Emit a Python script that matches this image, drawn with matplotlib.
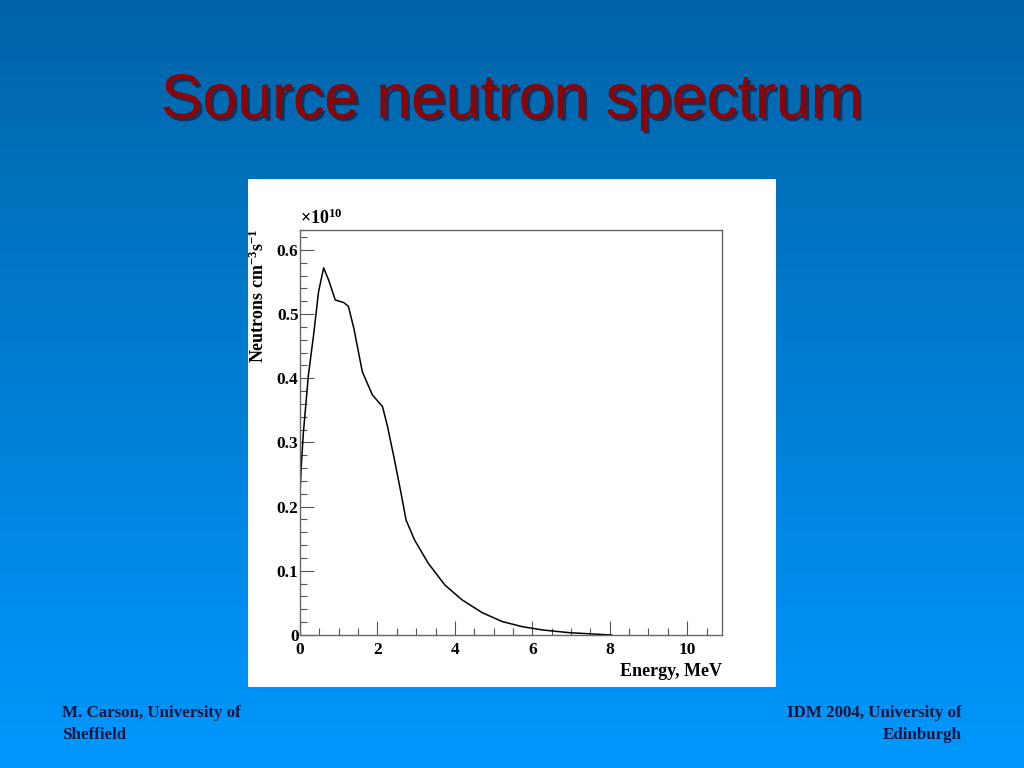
import numpy as np
import matplotlib
matplotlib.use("Agg")
import matplotlib.pyplot as plt
from matplotlib.ticker import MultipleLocator, FixedLocator
import matplotlib.patheffects as pe

# ------------------------------------------------------------------
# Data (energy in MeV, flux in units of 1e10)
# ------------------------------------------------------------------
energy = [0.0, 0.03, 0.087, 0.217, 0.35, 0.48, 0.61, 0.74, 0.91, 1.13,
          1.25, 1.39, 1.61, 1.87, 2.13, 2.26, 2.44, 2.61, 2.74, 2.96,
          3.31, 3.74, 4.18, 4.70, 5.22, 5.74, 6.27, 6.96, 7.57, 8.05]
flux = [0.22, 0.26, 0.315, 0.405, 0.467, 0.535, 0.572, 0.553, 0.522, 0.518,
        0.512, 0.478, 0.410, 0.374, 0.356, 0.325, 0.273, 0.221, 0.179, 0.148,
        0.112, 0.078, 0.055, 0.035, 0.021, 0.013, 0.0078, 0.0036, 0.0016, 0.0]

x_ticks = [0, 2, 4, 6, 8, 10]
y_ticks = [0, 0.1, 0.2, 0.3, 0.4, 0.5, 0.6]
y_tick_labels = ["0", "0.1", "0.2", "0.3", "0.4", "0.5", "0.6"]

title = "Source neutron spectrum"
footer_left = "M. Carson, University of\nSheffield"
footer_right = "IDM 2004, University of\nEdinburgh"

serif = ["Liberation Serif", "DejaVu Serif"]
plt.rcParams["mathtext.fontset"] = "custom"
plt.rcParams["mathtext.rm"] = "Liberation Serif:bold"
plt.rcParams["mathtext.bf"] = "Liberation Serif:bold"
plt.rcParams["mathtext.it"] = "Liberation Serif:bold"

fig = plt.figure(figsize=(10.24, 7.68), dpi=100)

# background gradient
bg = fig.add_axes([0, 0, 1, 1])
top_col = np.array([0, 100, 168]) / 255.0
bot_col = np.array([0, 152, 255]) / 255.0
t = np.linspace(0, 1, 256)[:, None]
grad = (top_col[None, :] * (1 - t) + bot_col[None, :] * t)[:, None, :]
bg.imshow(grad, aspect="auto", extent=[0, 1, 0, 1])
bg.set_xlim(0, 1)
bg.set_ylim(0, 1)
bg.axis("off")

# title with shadow
fig.text(0.5, 0.868, title, ha="center", va="center", fontsize=45,
         family="Liberation Sans", color="#8a0505",
         path_effects=[pe.withSimplePatchShadow(offset=(2, -2), shadow_rgbFace="#101030", alpha=0.6),
                       pe.Normal()])

# white panel
panel = plt.Rectangle((248 / 1024, 1 - 687 / 768), (776 - 248) / 1024, (687 - 179) / 768,
                      transform=fig.transFigure, facecolor="white", edgecolor="none", zorder=1)
fig.patches.append(panel)

ax = fig.add_axes([300 / 1024, 1 - 635 / 768, (722 - 300) / 1024, (635 - 230) / 768])
ax.set_zorder(2)
ax.plot(energy, flux, color="black", lw=1.1)
ax.set_xlim(0, 10.9)
ax.set_ylim(0, 0.631)

ax.xaxis.set_major_locator(FixedLocator(x_ticks))
ax.xaxis.set_minor_locator(MultipleLocator(0.5))
ax.yaxis.set_major_locator(FixedLocator(y_ticks))
ax.yaxis.set_minor_locator(MultipleLocator(0.02))
ax.set_yticklabels(y_tick_labels)
ax.tick_params(which="both", direction="in", top=False, right=False, color="#555555")
ax.tick_params(which="major", length=10, width=0.8, labelsize=12.5)
ax.tick_params(axis="x", which="major", pad=5)
ax.tick_params(axis="y", which="major", pad=1)
ax.tick_params(which="minor", length=5, width=0.8)
for lab in ax.get_xticklabels() + ax.get_yticklabels():
    lab.set_family(serif)
    lab.set_fontweight("bold")
for s in ax.spines.values():
    s.set_color("#666666")
    s.set_linewidth(1.0)

ax.text(0.0, 1.004, "×10$^{10}$", transform=ax.transAxes, ha="left", va="bottom",
        fontsize=13, family=serif, fontweight="bold")
ax.text(-0.098, 1.003, "Neutrons cm$^{-3}$s$^{-1}$", transform=ax.transAxes,
        rotation=90, ha="center", va="top", fontsize=13, family=serif, fontweight="bold")
ax.text(1.0, -0.068, "Energy, MeV", transform=ax.transAxes, ha="right", va="top",
        fontsize=13, family=serif, fontweight="bold")

# footers
fig.text(62 / 1024, 1 - 705 / 768, footer_left, ha="left", va="top", fontsize=12.2,
         family=serif, fontweight="bold", color="#14143c", linespacing=1.5)
fig.text(962 / 1024, 1 - 705 / 768, footer_right, ha="right", va="top", fontsize=12.2,
         family=serif, fontweight="bold", color="#14143c", linespacing=1.5, multialignment="right")

fig.savefig("out.png", dpi=100)
